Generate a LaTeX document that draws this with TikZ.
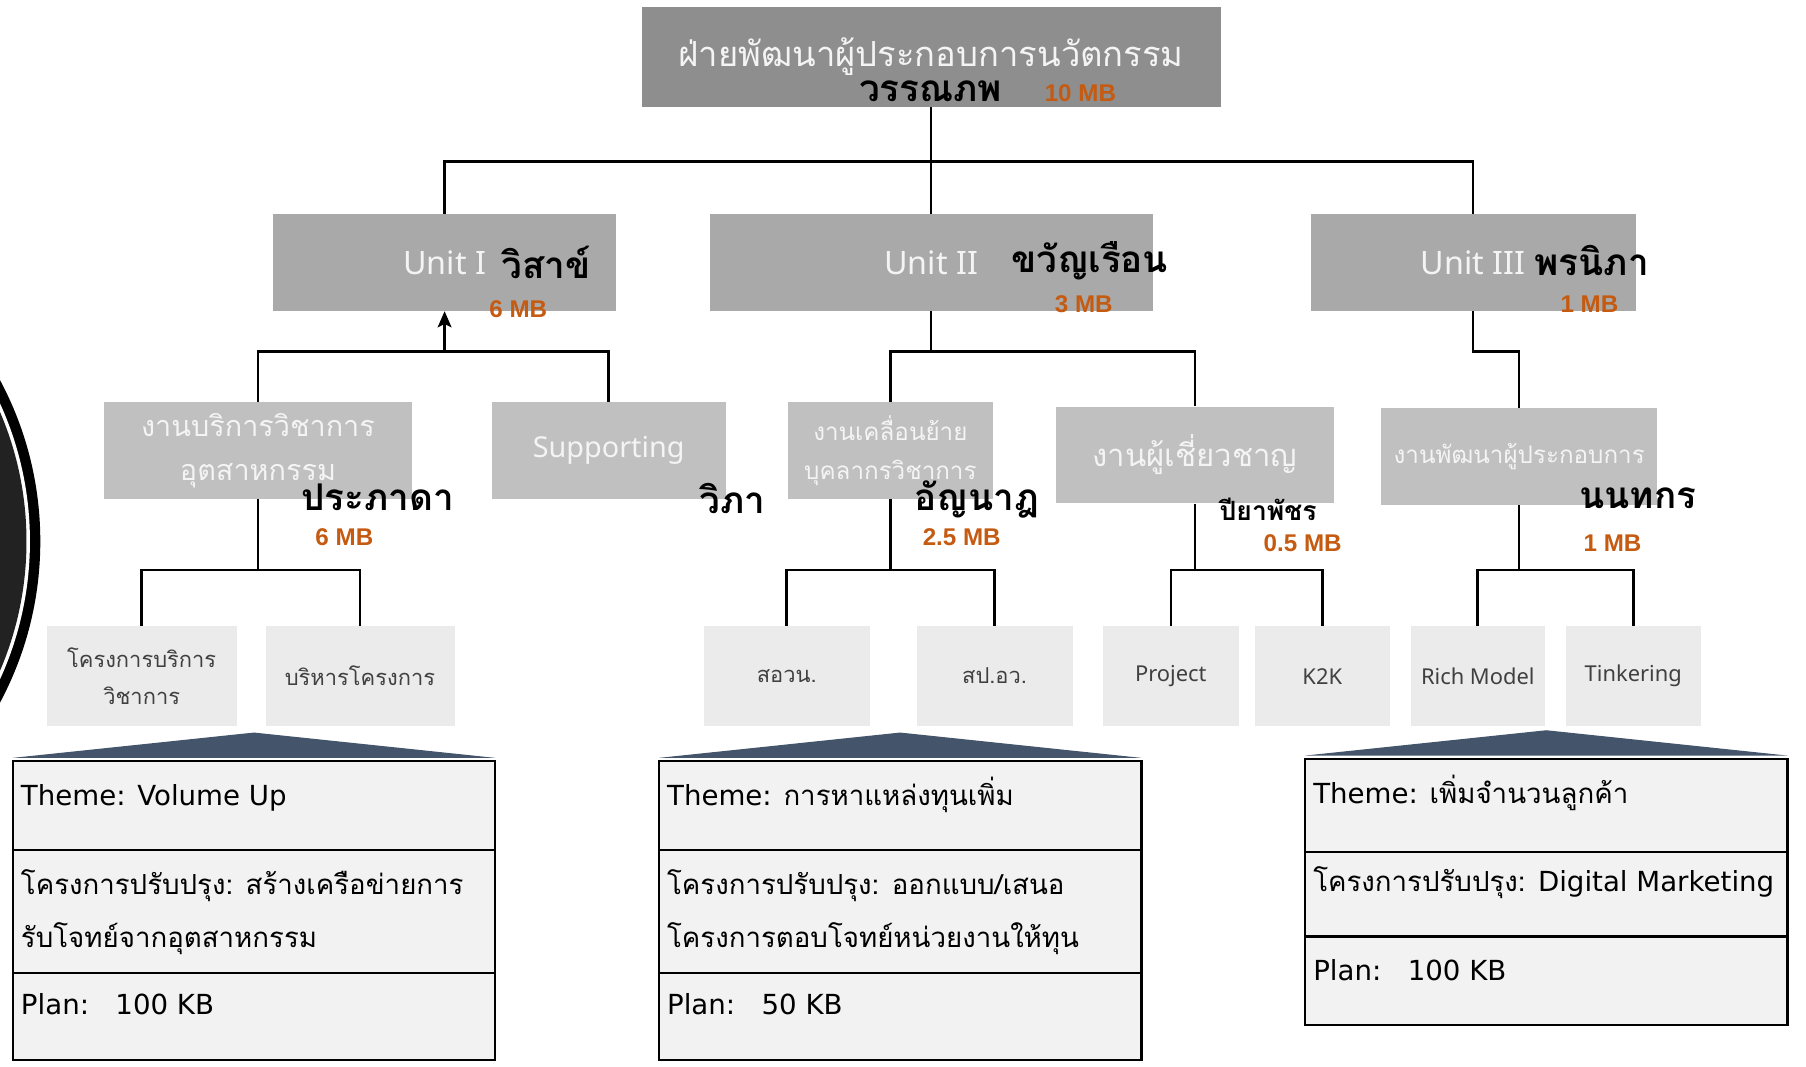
\documentclass[tikz,border=0pt]{standalone}
\usepackage{fontspec}
\newfontfamily\thaifont[Script=Thai]{Loma}
\newfontfamily\latinfont{DejaVu Sans}
\newfontfamily\boxfont{Noto Sans}
\newfontfamily\mbfont{Liberation Sans}
\usetikzlibrary{positioning, arrows.meta}
\definecolor{topgray}{HTML}{8E8E8E}
\definecolor{unitgray}{HTML}{A9A9A9}
\definecolor{jobgray}{HTML}{C0C0C0}
\definecolor{taskgray}{HTML}{EBEBEB}
\definecolor{tasktext}{HTML}{404040}
\definecolor{boxwhite}{HTML}{F4F4F4}
\definecolor{themefill}{HTML}{F2F2F2}
\definecolor{roofblue}{HTML}{44546A}
\definecolor{mborange}{HTML}{C55A11}
\definecolor{ringdark}{HTML}{222222}
\newcommand{\firstline}{\rule{0pt}{25pt}} % same top for every theme text
\tikzset{
conn/.style={draw, line width=2.2pt}, % the lines of the chart
>={Stealth[length=14pt, width=12pt, inset=3pt]}, % arrow head below Unit I
topbox/.style={fill=topgray, minimum width=503pt, minimum height=87pt, text=boxwhite, font=\thaifont\fontsize{30}{34}\selectfont},
unitbox/.style={fill=unitgray, minimum height=84pt, text=boxwhite, font=\boxfont\fontsize{28}{32}\selectfont},
jobbox/.style={fill=jobgray, minimum height=84pt, text=boxwhite, align=center, font=\thaifont\fontsize{25}{38}\selectfont},
taskbox/.style={fill=taskgray, draw=white!92!black, minimum height=86pt, text=tasktext, align=center, font=\thaifont\fontsize{19}{32}\selectfont},
person/.style={inner sep=0pt, font=\thaifont\bfseries\fontsize{32}{36}\selectfont},
mbtag/.style={inner sep=0pt, text=mborange, font=\mbfont\bfseries\fontsize{21}{24}\selectfont},
themerow/.style={draw, line width=2pt, fill=themefill, minimum width=419pt, outer sep=0pt, inner sep=0pt},
themetext/.style={anchor=north west, inner sep=0pt, align=left, font=\thaifont\fontsize{24}{46}\selectfont},
}

\begin{document}
\begin{tikzpicture}[x=1pt, y=-1pt]
\useasboundingbox (0,0) rectangle (1568,926);
% ring at the left edge
\begin{scope}
\clip (0,0) rectangle (1568,926);
\fill[black] (-262,470) circle (297pt);
\fill[white] (-262,470) circle (288pt);
\fill[ringdark] (-262,470) circle (285pt);
\end{scope}

% head
\node[topbox] (top) at (808.5,49.5) {ฝ่ายพัฒนาผู้ประกอบการนวัตกรรม};
\node[person] (topname) at (808,79) {วรรณภพ};
\node[mbtag] (topmb) at (938,81) {10 MB};

% units
\node[unitbox, minimum width=298pt] (u1) at (386,228) {Unit I};
\node[unitbox, minimum width=385pt] (u2) at (808.5,228) {Unit II};
\node[unitbox, minimum width=282pt] (u3) at (1279,228) {Unit III};
\node[person] (u1name) at (474,228) {วิสาข์};
\node[person] (u2name) at (946,226) {ขวัญเรือน};
\node[person] (u3name) at (1382,226) {พรนิภา};
\node[mbtag] (u1mb) at (450,268) {6 MB};
\node[mbtag] (u2mb) at (941,264) {3 MB};
\node[mbtag] (u3mb) at (1380,264) {1 MB};

% jobs
\node[jobbox, minimum width=268pt] (j1) at (224,391) {งานบริการวิชาการ\\อุตสาหกรรม};
\node[jobbox, minimum width=203pt, font=\boxfont\fontsize{25}{30}\selectfont] (j2) at (528.5,391) {Supporting};
\node[jobbox, minimum width=178pt, font=\thaifont\fontsize{21}{34}\selectfont] (j3) at (773,391) {งานเคลื่อนย้าย\\บุคลากรวิชาการ};
\node[jobbox, minimum width=241pt, font=\thaifont\fontsize{27}{32}\selectfont] (j4) at (1037.5,395) {งานผู้เชี่ยวชาญ};
\node[jobbox, minimum width=240pt, font=\thaifont\fontsize{21}{26}\selectfont] (j5) at (1319,396.5) {งานพัฒนาผู้ประกอบการ};
\node[person] (j1name) at (328,432) {ประภาดา};
\node[person] (j2name) at (636,433) {วิภา};
\node[person] (j3name) at (848,434) {อัญนาฎ};
\node[person, font=\thaifont\bfseries\fontsize{23}{26}\selectfont] (j4name) at (1101,442) {ปียาพัชร};
\node[person] (j5name) at (1422,433) {นนทกร};
\node[mbtag] (j1mb) at (299,466) {6 MB};
\node[mbtag] (j3mb) at (835,466) {2.5 MB};
\node[mbtag] (j4mb) at (1131,472) {0.5 MB};
\node[mbtag] (j5mb) at (1400,472) {1 MB};

% tasks
\node[taskbox, minimum width=164pt] (k1) at (123,587) {โครงการบริการ\\วิชาการ};
\node[taskbox, minimum width=163pt] (k2) at (312.5,587) {บริหารโครงการ};
\node[taskbox, minimum width=144pt] (k3) at (683,587) {สอวน.};
\node[taskbox, minimum width=135pt] (k4) at (863.5,587) {สป.อว.};
\node[taskbox, minimum width=117pt, font=\boxfont\fontsize{19}{24}\selectfont] (k5) at (1016.5,587) {Project};
\node[taskbox, minimum width=116pt, font=\boxfont\fontsize{19}{24}\selectfont] (k6) at (1148,587) {K2K};
\node[taskbox, minimum width=116pt, font=\boxfont\fontsize{19}{24}\selectfont] (k7) at (1283,587) {Rich Model};
\node[taskbox, minimum width=116pt, font=\boxfont\fontsize{19}{24}\selectfont] (k8) at (1418,587) {Tinkering};

% connectors
\draw[conn] (top.south) -- (u2.north);
\draw[conn] (top.south) ++(0,47) -| (u1.north);
\draw[conn] (top.south) ++(0,47) -| (u3.north);
\draw[conn, <-] (u1.south) -- ++(0,35) -| (j1.north);
\draw[conn] (u1.south) ++(0,35) -| (j2.north);
\draw[conn] (u2.south) -- ++(0,35) -| (j3.north);
\draw[conn] (u2.south) ++(0,35) -| (j4.north);
\draw[conn] (u3.south) -- ++(0,35) -| (j5.north);
\draw[conn] (j1.south) -- (j1.south |- 0,495) -| (k1.north);
\draw[conn] (j1.south |- 0,495) -| (k2.north);
\draw[conn] (j3.south) -- (j3.south |- 0,495) -| (k3.north);
\draw[conn] (j3.south |- 0,495) -| (k4.north);
\draw[conn] (j4.south) -- (j4.south |- 0,495) -| (k5.north);
\draw[conn] (j4.south |- 0,495) -| (k6.north);
\draw[conn] (j5.south) -- (j5.south |- 0,495) -| (k7.north);
\draw[conn] (j5.south |- 0,495) -| (k8.north);

% themes
\node[themerow, minimum height=77pt, anchor=north west] (t1a) at (11,661) {};
\node[themerow, minimum height=107pt, below=0pt of t1a] (t1b) {};
\node[themerow, minimum height=75pt, below=0pt of t1b] (t1c) {};
\node[themerow, minimum height=77pt, anchor=north west] (t2a) at (572,661) {};
\node[themerow, minimum height=107pt, below=0pt of t2a] (t2b) {};
\node[themerow, minimum height=75pt, below=0pt of t2b] (t2c) {};
\node[themerow, minimum height=81pt, anchor=north west] (t3a) at (1133,659) {};
\node[themerow, minimum height=73pt, below=0pt of t3a] (t3b) {};
\node[themerow, minimum height=77pt, below=0pt of t3b] (t3c) {};
\foreach \t in {t1a, t2a, t3a}
  \fill[roofblue] ([yshift=3pt]\t.north west) -- ([yshift=25pt]\t.north) -- ([yshift=3pt]\t.north east) -- cycle;

\node[themetext] at ([shift={(7pt,-13pt)}]t1a.north west) {\firstline{\latinfont Theme: Volume Up}};
\node[themetext] at ([shift={(7pt,-13pt)}]t1b.north west) {\firstline โครงการปรับปรุง: สร้างเครือข่ายการ\\รับโจทย์จากอุตสาหกรรม};
\node[themetext] at ([shift={(7pt,-11pt)}]t1c.north west) {\firstline{\latinfont Plan:\ \ \ 100 KB}};
\node[themetext] at ([shift={(7pt,-13pt)}]t2a.north west) {\firstline{\latinfont Theme: }การหาแหล่งทุนเพิ่ม};
\node[themetext] at ([shift={(7pt,-13pt)}]t2b.north west) {\firstline โครงการปรับปรุง: ออกแบบ/เสนอ\\โครงการตอบโจทย์หน่วยงานให้ทุน};
\node[themetext] at ([shift={(7pt,-11pt)}]t2c.north west) {\firstline{\latinfont Plan:\ \ \ 50 KB}};
\node[themetext] at ([shift={(7pt,-13pt)}]t3a.north west) {\firstline{\latinfont Theme: }เพิ่มจำนวนลูกค้า};
\node[themetext] at ([shift={(7pt,-9pt)}]t3b.north west) {\firstline โครงการปรับปรุง: {\latinfont Digital Marketing}};
\node[themetext] at ([shift={(7pt,-13pt)}]t3c.north west) {\firstline{\latinfont Plan:\ \ \ 100 KB}};
\end{tikzpicture}
\end{document}
